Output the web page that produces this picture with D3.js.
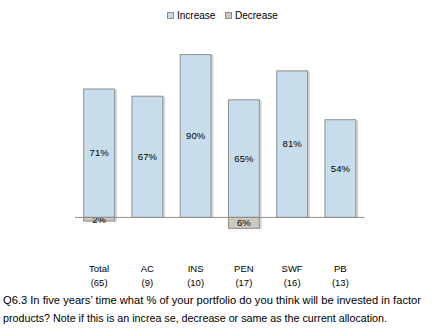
<!DOCTYPE html>
<html><head><meta charset="utf-8">
<script src="https://cdn.jsdelivr.net/npm/d3@7"></script>
<style>body{margin:0;background:#fff;}svg{display:block;font-family:"Liberation Sans",Arial,sans-serif;}</style>
</head><body><svg id="c" width="432" height="330"></svg>
<script>
const categories = ["Total","AC","INS","PEN","SWF","PB"];
const counts = ["(65)","(9)","(10)","(17)","(16)","(13)"];
const increase = [71,67,90,65,81,54];
const decrease = [2,0,0,6,0,0];
const seriesNames = ["Increase","Decrease"];
const caption = ["Q6.3 In five years\u2019 time what % of your portfolio do you think will be invested in factor",
                 "products? Note if this is an increa se, decrease or same as the current allocation."];

const svg = d3.select("#c");
const x = d3.scaleBand().domain(categories).range([75,364.5]).paddingInner(0.34).paddingOuter(0.17);
const y = d3.scaleLinear().domain([-10,100]).range([235,36]);
const colInc = "#C7DDEC", colDec = "#CFC7B9", stroke = "#8E8E8E";

const g = svg.append("g");
// shadows
g.selectAll("rect.shi").data(categories).enter().append("rect")
  .attr("x", d=>x(d)+2).attr("y", (d,i)=>y(increase[i])+1)
  .attr("width", x.bandwidth()).attr("height", (d,i)=>y(0)-y(increase[i]))
  .attr("fill","#d9d9d9");
g.selectAll("rect.inc").data(categories).enter().append("rect")
  .attr("x", d=>x(d)+0.5).attr("y", (d,i)=>y(increase[i])+0.5)
  .attr("width", x.bandwidth()-1).attr("height", (d,i)=>y(0)-y(increase[i]))
  .attr("fill",colInc).attr("stroke",stroke).attr("stroke-width",1);
const decIdx = categories.map((d,i)=>i).filter(i=>decrease[i]>0);
g.selectAll("rect.shd").data(decIdx).enter().append("rect")
  .attr("x", i=>x(categories[i])+2).attr("y", y(0)+1)
  .attr("width", x.bandwidth()).attr("height", i=>y(-decrease[i])-y(0))
  .attr("fill","#d9d9d9");
g.selectAll("rect.dec").data(decIdx).enter().append("rect")
  .attr("x", i=>x(categories[i])+0.5).attr("y", y(0)+0.5)
  .attr("width", x.bandwidth()-1).attr("height", i=>y(-decrease[i])-y(0))
  .attr("fill",colDec).attr("stroke",stroke).attr("stroke-width",1);

// zero line
svg.append("line").attr("x1",75).attr("x2",364.5).attr("y1",y(0)+0.5).attr("y2",y(0)+0.5)
  .attr("stroke","#8E8E8E").attr("stroke-width",1);

// value labels
g.selectAll("text.vi").data(categories).enter().append("text")
  .attr("x", d=>x(d)+x.bandwidth()/2).attr("y",(d,i)=>(y(increase[i])+y(0))/2+3.5)
  .attr("text-anchor","middle").attr("font-size","9.5px").attr("fill","#000")
  .text((d,i)=>increase[i]+"%");
g.selectAll("text.vd").data(decIdx).enter().append("text")
  .attr("x", i=>x(categories[i])+x.bandwidth()/2).attr("y", i=>(y(-decrease[i])+y(0))/2+4)
  .attr("text-anchor","middle").attr("font-size","9.5px").attr("fill","#000")
  .text(i=>decrease[i]+"%");

// category labels
const cl = svg.append("g").attr("font-size","9.5px").attr("fill","#000").attr("text-anchor","middle");
cl.selectAll("text.c").data(categories).enter().append("text")
  .attr("x", d=>x(d)+x.bandwidth()/2).attr("y",272).text(d=>d);
cl.selectAll("text.n").data(categories).enter().append("text")
  .attr("x", (d,i)=>x(d)+x.bandwidth()/2).attr("y",286).text((d,i)=>counts[i]);

// legend
const leg = svg.append("g");
const legX = [167,225];
seriesNames.forEach((s,i)=>{
  leg.append("rect").attr("x",legX[i]+0.5).attr("y",12.5).attr("width",6).attr("height",6)
    .attr("fill", i===0?colInc:colDec).attr("stroke",stroke);
  leg.append("text").attr("x",legX[i]+10).attr("y",18.5).attr("font-size","10px").attr("fill","#000").text(s);
});

// caption
svg.selectAll("text.cap").data(caption).enter().append("text")
  .attr("x",3).attr("y",(d,i)=>304+i*17.5).attr("font-size","10.5px").attr("fill","#000")
  .attr("textLength",(d,i)=>i===0?418:384).attr("lengthAdjust","spacingAndGlyphs")
  .text(d=>d);
</script></body></html>
